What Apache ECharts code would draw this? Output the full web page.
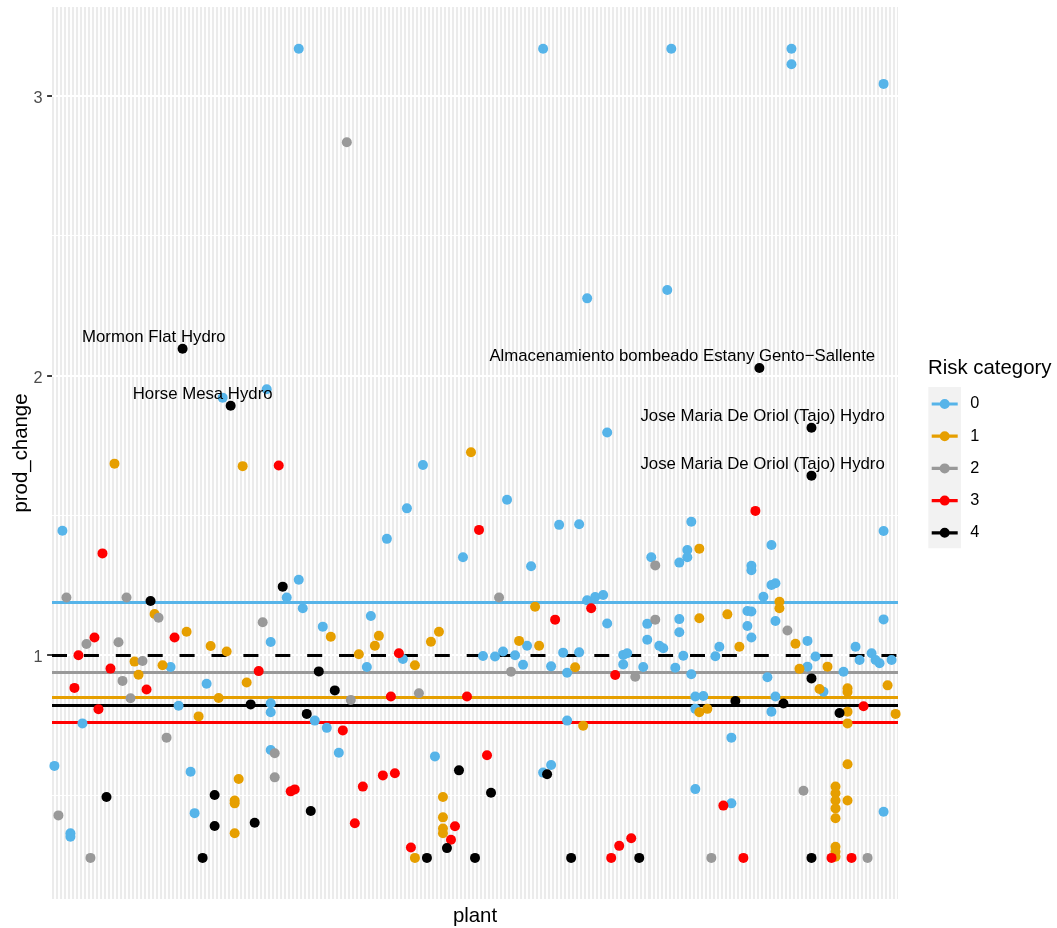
<!DOCTYPE html>
<html>
<head>
<meta charset="utf-8">
<script src="https://cdn.jsdelivr.net/npm/echarts@6/dist/echarts.min.js"></script>
<style>
  html, body { margin: 0; padding: 0; background: #ffffff; }
  #chart { width: 1057px; height: 928px; }
</style>
</head>
<body>
<div id="chart"></div>
<script>
// ---- data: production change per plant, grouped by risk category ----
const plantCount = 211;
const riskCategories = ['0', '1', '2', '3', '4'];
const riskColors = ['#56B4E9', '#E69F00', '#999999', '#FF0000', '#000000'];
// mean prod_change of each risk category (horizontal reference lines)
const categoryMean = [1.188, 0.849, 0.937, 0.759, 0.819];
const referenceLevel = 1;
const yTickValues = [1, 2, 3];

const risk0Plant = [62, 123, 155, 185, 185, 208, 154, 134, 43, 54, 3, 62, 59, 63, 68, 55, 30, 39, 32, 55,
  55, 8, 66, 69, 55, 1, 35, 36, 5, 5, 139, 93, 114, 89, 84, 127, 132, 103, 120, 134,
  136, 138, 80, 139, 88, 79, 108, 111, 113, 116, 119, 118, 125, 128, 132, 129, 72, 129, 96, 123,
  125, 160, 208, 150, 157, 159, 159, 180, 175, 175, 180, 181, 178, 149, 157, 157, 174, 175, 174, 181,
  175, 189, 149, 152, 153, 143, 144, 143, 148, 156, 158, 160, 166, 167, 179, 189, 191, 198, 201, 202,
  205, 206, 207, 210, 208, 193, 161, 163, 161, 181, 180, 170, 161, 170, 208];
const risk0Value = [3.169, 3.169, 3.169, 3.169, 3.113, 3.043, 2.306, 2.276, 1.921, 1.951, 1.445, 1.270, 1.206, 1.168, 1.102, 1.047, 0.958, 0.898, 0.819, 0.828,
  0.796, 0.756, 0.766, 0.740, 0.661, 0.604, 0.583, 0.435, 0.363, 0.351, 1.796, 1.680, 1.556, 1.525, 1.416, 1.466, 1.468, 1.350, 1.318, 1.196,
  1.208, 1.215, 1.140, 1.113, 0.986, 0.958, 0.997, 0.995, 1.013, 1.000, 1.034, 0.966, 0.960, 1.009, 1.010, 0.937, 0.651, 0.766, 0.638, 0.580,
  0.607, 1.477, 1.444, 1.350, 1.331, 1.376, 1.350, 1.394, 1.320, 1.304, 1.251, 1.257, 1.209, 1.112, 1.129, 1.082, 1.158, 1.156, 1.104, 1.122,
  1.063, 1.051, 1.055, 1.034, 1.025, 1.001, 1.007, 0.967, 0.958, 0.955, 0.998, 0.932, 0.996, 1.030, 0.921, 0.959, 0.995, 0.941, 1.030, 0.983,
  1.007, 0.983, 0.971, 0.983, 1.128, 0.869, 0.852, 0.854, 0.808, 0.852, 0.798, 0.705, 0.521, 0.470, 0.440];

const risk1Plant = [16, 48, 26, 34, 40, 44, 21, 22, 28, 49, 42, 37, 47, 46, 46, 46, 70, 105, 121, 82,
  81, 97, 95, 77, 91, 117, 122, 131, 133, 98, 98, 98, 98, 91, 182, 182, 162, 169, 162, 172,
  186, 187, 194, 192, 199, 199, 209, 162, 164, 199, 199, 211, 199, 196, 196, 196, 196, 196, 199, 196,
  196, 196];
const risk1Value = [1.685, 1.676, 1.147, 1.084, 1.033, 1.013, 0.977, 0.930, 0.964, 0.902, 0.847, 0.781, 0.557, 0.480, 0.470, 0.363, 1.066, 1.726, 1.173, 1.069,
  1.034, 1.084, 1.048, 1.003, 0.964, 1.051, 1.034, 0.957, 0.748, 0.493, 0.420, 0.380, 0.363, 0.275, 1.191, 1.168, 1.132, 1.146, 1.381, 1.030,
  1.041, 0.951, 0.959, 0.879, 0.882, 0.868, 0.892, 0.796, 0.808, 0.798, 0.756, 0.790, 0.610, 0.530, 0.506, 0.480, 0.452, 0.417, 0.480, 0.315,
  0.297, 0.279];

const risk2Plant = [74, 4, 19, 27, 53, 9, 17, 23, 18, 20, 29, 56, 56, 2, 10, 112, 75, 92, 115, 151,
  151, 184, 146, 188, 165, 204];
const risk2Value = [2.834, 1.206, 1.206, 1.134, 1.118, 1.040, 1.046, 0.979, 0.908, 0.846, 0.705, 0.649, 0.563, 0.427, 0.275, 1.206, 0.840, 0.864, 0.941, 1.321,
  1.127, 1.088, 0.923, 0.515, 0.275, 0.275];

const risk3Plant = [57, 13, 11, 31, 7, 15, 52, 6, 24, 12, 60, 61, 107, 135, 126, 87, 85, 104, 73, 109,
  83, 86, 78, 76, 101, 100, 90, 141, 176, 203, 168, 140, 142, 145, 173, 195, 200];
const risk3Value = [1.678, 1.364, 1.063, 1.063, 1.000, 0.952, 0.943, 0.883, 0.877, 0.807, 0.513, 0.520, 1.448, 1.168, 1.127, 1.007, 0.852, 0.852, 0.731, 0.642,
  0.570, 0.578, 0.530, 0.399, 0.388, 0.340, 0.312, 0.929, 1.516, 0.817, 0.462, 0.275, 0.318, 0.345, 0.275, 0.275, 0.275];

const risk4Plant = [33, 45, 177, 190, 190, 58, 25, 67, 71, 50, 64, 14, 41, 65, 41, 51, 38, 102, 110, 124,
  99, 94, 106, 130, 147, 190, 171, 183, 197, 190];
const risk4Value = [2.096, 1.892, 2.027, 1.813, 1.642, 1.245, 1.194, 0.942, 0.874, 0.824, 0.790, 0.493, 0.500, 0.443, 0.389, 0.401, 0.275, 0.588, 0.508, 0.574,
  0.310, 0.275, 0.275, 0.275, 0.275, 0.917, 0.836, 0.827, 0.793, 0.275];
// plant names shown next to the first points of category 4
const risk4Label = ['Mormon Flat Hydro', 'Horse Mesa Hydro',
  'Almacenamiento bombeado Estany Gento\u2212Sallente',
  'Jose Maria De Oriol (Tajo) Hydro', 'Jose Maria De Oriol (Tajo) Hydro'];

// ---- layout ----
const FONT = '"Liberation Sans", Arial, Helvetica, sans-serif';
const panel = { left: 52, top: 7, width: 846, height: 892 };
const yRange = [0.128, 3.318];
const xRange = [0.4, plantCount + 0.6];
const pxPerY = panel.height / (yRange[1] - yRange[0]);
const pxPerPlant = panel.width / (xRange[1] - xRange[0]);
const yPix = v => panel.top + (yRange[1] - v) * pxPerY;

const titleSize = 20.4;
const smallSize = 16.3;
const labelFontSize = 16.8;

const plantsByRisk = [risk0Plant, risk1Plant, risk2Plant, risk3Plant, risk4Plant];
const valuesByRisk = [risk0Value, risk1Value, risk2Value, risk3Value, risk4Value];

const measureCtx = document.createElement('canvas').getContext('2d');
measureCtx.font = labelFontSize + 'px "Liberation Sans"';

function buildData(k) {
  return plantsByRisk[k].map((p, j) => {
    const item = { value: [p, valuesByRisk[k][j]] };
    if (k === 4 && j < risk4Label.length) {
      const name = risk4Label[j];
      const w = measureCtx.measureText(name).width;
      item.label = {
        show: true,
        formatter: name,
        position: 'top',
        distance: -2,
        offset: [-0.2 * w, 0]
      };
    }
    return item;
  });
}

// legend glyph: short line through a dot
const keyIcon = 'path://M0 3.4 H26 V6.6 H0 Z M8 5 A5 5 0 1 1 18 5 A5 5 0 1 1 8 5 Z';

const series = riskCategories.map((cat, k) => ({
  name: cat,
  type: 'scatter',
  xAxisIndex: 0,
  yAxisIndex: 0,
  symbol: 'circle',
  symbolSize: 10,
  itemStyle: { color: riskColors[k], opacity: 1 },
  label: { show: false, color: '#000000', fontSize: labelFontSize, fontFamily: FONT },
  emphasis: { disabled: true },
  data: buildData(k),
  z: 2
}));

// horizontal reference lines: category means and the 1.0 level
series.push({
  type: 'scatter',
  xAxisIndex: 0,
  yAxisIndex: 0,
  data: [],
  silent: true,
  markLine: {
    z: 1,
    silent: true,
    symbol: 'none',
    label: { show: false },
    emphasis: { disabled: true },
    animation: false,
    data: categoryMean.map((m, k) => ({
      yAxis: m,
      lineStyle: { color: riskColors[k], width: 2.9, type: 'solid', opacity: 1 }
    })).concat([{
      yAxis: referenceLevel,
      lineStyle: { color: '#000000', width: 2.9, type: [15, 16.9], opacity: 1 }
    }])
  }
});

const hidden = { show: false };
const yMajorTop = yPix(yTickValues[yTickValues.length - 1]);
const yMajorBottom = yPix(yTickValues[0]);
const yMinorBottom = yPix(0.5);

const option = {
  animation: false,
  backgroundColor: '#ffffff',
  textStyle: { fontFamily: FONT },
  grid: [
    // panel with points
    { left: panel.left, top: panel.top, width: panel.width, height: panel.height,
      show: true, backgroundColor: '#EBEBEB', borderWidth: 0, outerBoundsMode: 'none' },
    // vertical grid lines, one per plant
    { left: panel.left - 0.4 * pxPerPlant, top: panel.top, width: (plantCount + 1) * pxPerPlant,
      height: panel.height, outerBoundsMode: 'none' },
    // major y lines, ticks and labels
    { left: panel.left, top: yMajorTop, width: panel.width, height: yMajorBottom - yMajorTop,
      outerBoundsMode: 'none' },
    // minor y lines
    { left: panel.left, top: yMajorTop, width: panel.width, height: yMinorBottom - yMajorTop,
      outerBoundsMode: 'none' }
  ],
  xAxis: [
    { gridIndex: 0, type: 'value', min: xRange[0], max: xRange[1],
      axisLine: hidden, axisTick: hidden, axisLabel: hidden, splitLine: hidden,
      name: 'plant', nameLocation: 'middle', nameGap: 7,
      nameTextStyle: { fontSize: titleSize, color: '#000000', fontFamily: FONT } },
    { gridIndex: 1, type: 'value', min: 0, max: plantCount + 1, interval: 1,
      axisLine: hidden, axisTick: hidden, axisLabel: hidden,
      splitLine: { show: true, lineStyle: { color: '#FFFFFF', width: 1.9 } }, z: 0 },
    { gridIndex: 2, type: 'value', min: 0, max: 1,
      axisLine: hidden, axisTick: hidden, axisLabel: hidden, splitLine: hidden },
    { gridIndex: 3, type: 'value', min: 0, max: 1,
      axisLine: hidden, axisTick: hidden, axisLabel: hidden, splitLine: hidden }
  ],
  yAxis: [
    { gridIndex: 0, type: 'value', min: yRange[0], max: yRange[1],
      axisLine: hidden, axisTick: hidden, axisLabel: hidden, splitLine: hidden,
      name: 'prod_change', nameLocation: 'middle', nameGap: 21, nameRotate: 90,
      nameTextStyle: { fontSize: titleSize, color: '#000000', fontFamily: FONT } },
    { gridIndex: 1, type: 'value', min: 0, max: 1,
      axisLine: hidden, axisTick: hidden, axisLabel: hidden, splitLine: hidden },
    { gridIndex: 2, type: 'value', min: yTickValues[0], max: yTickValues[yTickValues.length - 1], interval: 1,
      axisLine: hidden,
      axisTick: { show: true, length: 4.9, lineStyle: { color: '#333333', width: 1.9 } },
      axisLabel: { show: true, margin: 9.4,
        formatter: v => '{t|' + v + '}',
        rich: { t: { fontSize: smallSize, color: '#4D4D4D', fontFamily: FONT, padding: [5, 0, 0, 0] } } },
      splitLine: { show: true, lineStyle: { color: '#FFFFFF', width: 1.9 } } },
    { gridIndex: 3, type: 'value', min: 0.5, max: 3, interval: 0.5,
      axisLine: hidden, axisTick: hidden, axisLabel: hidden,
      splitLine: { show: true, lineStyle: { color: '#FFFFFF', width: 0.95 } } }
  ],
  legend: {
    data: riskCategories,
    orient: 'vertical',
    left: 931.7,
    top: 395.5,
    padding: 0,
    itemWidth: 26,
    itemHeight: 10,
    itemGap: 15.2,
    icon: keyIcon,
    selectedMode: false,
    textStyle: { fontSize: smallSize, color: '#000000', fontFamily: FONT, lineHeight: 17, padding: [0, 0, 0, 7.5] }
  },
  graphic: [
    { type: 'rect', z: 0, silent: true,
      shape: { x: 928.3, y: 387, width: 32.7, height: 161.2 },
      style: { fill: '#F2F2F2' } },
    { type: 'text', z: 1, silent: true,
      style: { text: 'Risk category', x: 928, y: 368.5, font: titleSize + 'px ' + FONT, fill: '#000000',
        verticalAlign: 'middle', textVerticalAlign: 'middle', align: 'left', textAlign: 'left' } }
  ],
  series: series
};

const chart = echarts.init(document.getElementById('chart'), null, { renderer: 'canvas', width: 1057, height: 928 });
chart.setOption(option);
</script>
</body>
</html>
